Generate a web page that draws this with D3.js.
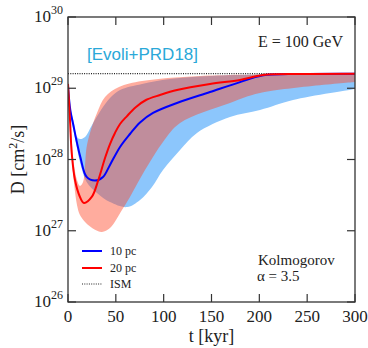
<!DOCTYPE html>
<html>
<head>
<meta charset="utf-8">
<script src="https://cdn.jsdelivr.net/npm/d3@7"></script>
<style>
  body { margin: 0; background: #fff; }
</style>
</head>
<body>
<div id="vis"></div>
<script>
const FRAME_WIDTH = 368;
const FRAME_HEIGHT = 348;
const MARGINS = {left: 68, right: 13, top: 17, bottom: 46};
const SERIF = "'Liberation Serif', 'Times New Roman', serif";

// 10 pc line
const T_10PC = [0, 2.4, 6.0, 9.4, 12.9, 19.5, 28.2, 36.6, 43.9, 54.4, 64.8, 75.3, 88.9, 113.9, 148.4, 179.8, 202.8, 242.5, 300];
const D_10PC = [1.08e29, 4.95e28, 2.86e28, 1.71e28, 1.08e28, 5.7e27, 5.07e27, 5.7e27, 8.4e27, 1.5e28, 2.28e28, 3.31e28, 4.5e28, 6.21e28, 8.85e28, 1.22e29, 1.51e29, 1.585e29, 1.6e29];

// 20 pc line
const T_20PC = [0, 2.1, 3.9, 7.3, 12.5, 16.7, 24.8, 31.7, 38.7, 43.9, 49.1, 54.4, 61.7, 71.1, 81.5, 96.2, 113.9, 148.4, 179.8, 203.8, 242.5, 300];
const D_20PC = [1.15e29, 3.58e28, 1.23e28, 5.15e27, 2.98e27, 2.45e27, 2.98e27, 5.15e27, 1.05e28, 1.65e28, 2.36e28, 3.15e28, 4.07e28, 5.46e28, 6.84e28, 8.04e28, 9.45e28, 1.15e29, 1.31e29, 1.53e29, 1.585e29, 1.6e29];

// 10 pc band edges
const T_10PC_HI = [0, 2.1, 6.0, 9.4, 12.5, 17.8, 25.1, 34.5, 43.9, 54.4, 77.4, 106.6, 148.4, 200.7, 300];
const D_10PC_HI = [1.31e29, 5.64e28, 3.37e28, 2.07e28, 1.94e28, 2.07e28, 3.05e28, 4.95e28, 7.29e28, 9.45e28, 1.15e29, 1.35e29, 1.49e29, 1.56e29, 1.6e29];
const T_10PC_LO = [0, 2.4, 6.0, 9.4, 12.5, 19.5, 30.3, 43.9, 61.7, 75.3, 87.8, 99.3, 117.1, 134.8, 169.3, 200.7, 235.2, 300];
const D_10PC_LO = [9.45e28, 4.64e28, 2.43e28, 1.45e28, 9.2e27, 4.83e27, 3.39e27, 2.53e27, 2.15e27, 2.7e27, 4.11e27, 7.1e27, 1.36e28, 2.36e28, 3.95e28, 4.95e28, 6.84e28, 9.76e28];

// 20 pc band edges
const T_20PC_HI = [0, 2.1, 3.9, 6.0, 9.4, 12.5, 15.7, 17.8, 19.3, 23.0, 30.3, 38.7, 53.3, 77.4, 138.0, 300];
const D_20PC_HI = [1.31e29, 4.95e28, 1.88e28, 8.9e27, 5.15e27, 4.25e27, 4.83e27, 8.4e27, 1.45e28, 2.36e28, 4.5e28, 7.53e28, 1.04e29, 1.26e29, 1.49e29, 1.6e29];
const T_20PC_LO = [0, 2.1, 4.2, 6.3, 9.4, 12.5, 17.8, 28.2, 35.5, 43.9, 56.4, 64.8, 80.5, 99.3, 117.1, 169.3, 200.7, 300];
const D_20PC_LO = [1.01e29, 3.05e28, 9.8e27, 4.68e27, 2.3e27, 1.66e27, 1.33e27, 1.03e27, 9.6e26, 1.09e27, 1.95e27, 2.98e27, 7.1e27, 1.76e28, 3.25e28, 6.21e28, 8.57e28, 1.22e29];

const D_ISM = 1.6e29;

const X_TICKS = [0, 50, 100, 150, 200, 250, 300];
const Y_TICKS = [26, 27, 28, 29, 30];

const VIS_WIDTH = FRAME_WIDTH - MARGINS.left - MARGINS.right;
const VIS_HEIGHT = FRAME_HEIGHT - MARGINS.top - MARGINS.bottom;

const SVG = d3.select("#vis")
  .append("svg")
    .attr("width", FRAME_WIDTH)
    .attr("height", FRAME_HEIGHT);

const X_SCALE = d3.scaleLinear()
  .domain([0, 300])
  .range([MARGINS.left, MARGINS.left + VIS_WIDTH]);

const Y_SCALE = d3.scaleLog()
  .domain([1e26, 1e30])
  .range([MARGINS.top + VIS_HEIGHT, MARGINS.top]);

const zip = (ts, ds) => ts.map((t, i) => [t, ds[i]]);

SVG.append("clipPath").attr("id", "clip")
  .append("rect")
    .attr("x", MARGINS.left).attr("y", MARGINS.top)
    .attr("width", VIS_WIDTH).attr("height", VIS_HEIGHT);

const line = d3.line()
  .x(d => X_SCALE(d[0]))
  .y(d => Y_SCALE(d[1]))
  .curve(d3.curveCatmullRom.alpha(0.5));

function bandPath(hi, lo) {
  const top = line(hi);
  const bottom = line(lo.slice().reverse());
  return top + "L" + bottom.slice(1) + "Z";
}

const PLOT = SVG.append("g").attr("clip-path", "url(#clip)");

// bands
PLOT.append("path")
  .attr("d", bandPath(zip(T_10PC_HI, D_10PC_HI), zip(T_10PC_LO, D_10PC_LO)))
  .attr("fill", "rgb(140,198,252)");

PLOT.append("path")
  .attr("d", bandPath(zip(T_20PC_HI, D_20PC_HI), zip(T_20PC_LO, D_20PC_LO)))
  .attr("fill", "rgb(255,70,40)")
  .attr("fill-opacity", 0.45);

// ISM level
PLOT.append("line")
  .attr("x1", X_SCALE(0)).attr("x2", X_SCALE(300))
  .attr("y1", Y_SCALE(D_ISM)).attr("y2", Y_SCALE(D_ISM))
  .attr("stroke", "#222")
  .attr("stroke-width", 1.2)
  .attr("stroke-dasharray", "1,1.3");

// lines
PLOT.append("path")
  .attr("d", line(zip(T_10PC, D_10PC)))
  .attr("fill", "none")
  .attr("stroke", "#0000ff")
  .attr("stroke-width", 2);

PLOT.append("path")
  .attr("d", line(zip(T_20PC, D_20PC)))
  .attr("fill", "none")
  .attr("stroke", "#ff0000")
  .attr("stroke-width", 2);

// frame
SVG.append("rect")
  .attr("x", MARGINS.left).attr("y", MARGINS.top)
  .attr("width", VIS_WIDTH).attr("height", VIS_HEIGHT)
  .attr("fill", "none")
  .attr("stroke", "#333")
  .attr("stroke-width", 1.3);

const TICK = 8;

function addText(x, y, str, size, anchor) {
  return SVG.append("text")
    .attr("x", x).attr("y", y)
    .attr("text-anchor", anchor || "start")
    .attr("font-family", SERIF)
    .attr("font-size", size)
    .attr("fill", "#222")
    .text(str);
}

// x ticks (inward, top and bottom)
X_TICKS.forEach(t => {
  const x = X_SCALE(t);
  SVG.append("line").attr("x1", x).attr("x2", x)
    .attr("y1", MARGINS.top + VIS_HEIGHT).attr("y2", MARGINS.top + VIS_HEIGHT - TICK)
    .attr("stroke", "#333").attr("stroke-width", 1.2);
  SVG.append("line").attr("x1", x).attr("x2", x)
    .attr("y1", MARGINS.top).attr("y2", MARGINS.top + TICK)
    .attr("stroke", "#333").attr("stroke-width", 1.2);
  addText(x, MARGINS.top + VIS_HEIGHT + 20, t, "17px", "middle");
});

// y ticks (inward, left and right)
Y_TICKS.forEach(e => {
  const y = Y_SCALE(Math.pow(10, e));
  SVG.append("line").attr("x1", MARGINS.left).attr("x2", MARGINS.left + TICK)
    .attr("y1", y).attr("y2", y)
    .attr("stroke", "#333").attr("stroke-width", 1.2);
  SVG.append("line").attr("x1", MARGINS.left + VIS_WIDTH).attr("x2", MARGINS.left + VIS_WIDTH - TICK)
    .attr("y1", y).attr("y2", y)
    .attr("stroke", "#333").attr("stroke-width", 1.2);
  const lab = addText(MARGINS.left - 5, y + 5, null, "17px", "end");
  lab.append("tspan").text("10");
  lab.append("tspan").attr("dy", -8).attr("font-size", "12px").text(e);
});

// axis labels
addText(X_SCALE(150), 342, "t [kyr]", "18px", "middle");

const YLAB = SVG.append("text")
  .attr("transform", "translate(24," + (MARGINS.top + VIS_HEIGHT / 2) + ") rotate(-90)")
  .attr("text-anchor", "middle")
  .attr("font-family", SERIF)
  .attr("font-size", "18px")
  .attr("fill", "#222");
YLAB.append("tspan").text("D [cm");
YLAB.append("tspan").attr("dy", -7).attr("font-size", "12px").text("2");
YLAB.append("tspan").attr("dy", 7).text("/s]");

// annotations
SVG.append("text")
  .attr("x", 87).attr("y", 60)
  .attr("font-family", "'Liberation Sans', Arial, sans-serif")
  .attr("fill", "#2aa8d8")
  .attr("font-size", "17px")
  .text("[Evoli+PRD18]");

addText(343, 47, "E = 100 GeV", "16px", "end");
addText(258, 265, "Kolmogorov", "15px");
addText(257, 281, "α = 3.5", "15px");

// legend
const LEGEND = [
  {label: "10 pc", color: "#0000ff", dash: null, y: 251},
  {label: "20 pc", color: "#ff0000", dash: null, y: 268},
  {label: "ISM", color: "#222", dash: "1,1.3", y: 284}
];

LEGEND.forEach(d => {
  SVG.append("line")
    .attr("x1", 82).attr("x2", 102)
    .attr("y1", d.y).attr("y2", d.y)
    .attr("stroke", d.color)
    .attr("stroke-width", d.dash ? 1.2 : 2)
    .attr("stroke-dasharray", d.dash);
  addText(110, d.y + 4, d.label, "12px");
});
</script>
</body>
</html>
